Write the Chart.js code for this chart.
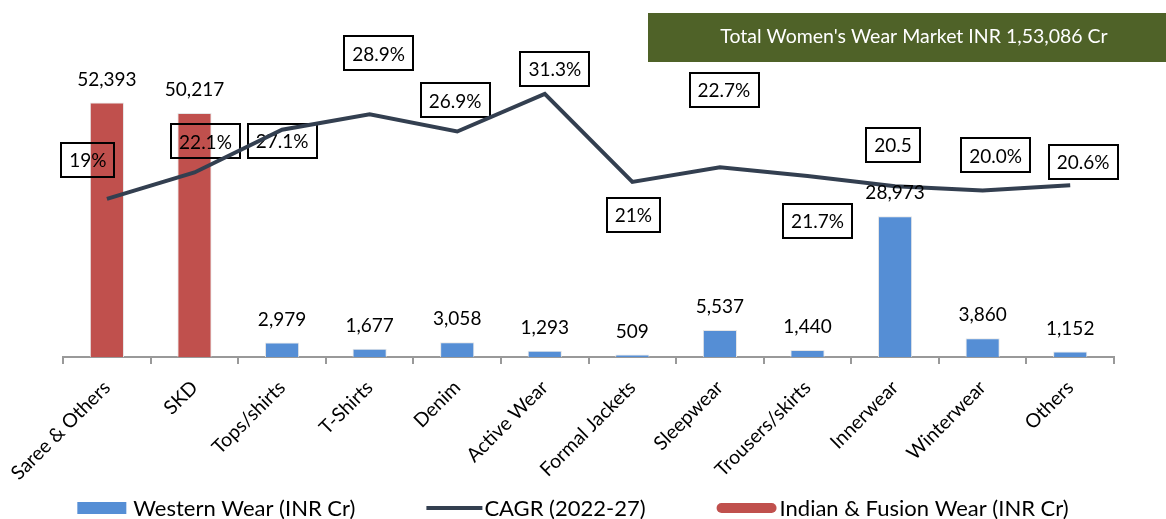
<!DOCTYPE html>
<html>
<head>
<meta charset="utf-8">
<script src="https://cdn.jsdelivr.net/npm/chart.js"></script>
<style>
  body { margin: 0; background: #fff; }
  #wrap { width: 1166px; height: 519px; position: relative; }
</style>
</head>
<body>
<div id="wrap"><canvas id="myChart"></canvas></div>
<script>
// data
var categories = ['Saree & Others', 'SKD', 'Tops/shirts', 'T-Shirts', 'Denim', 'Active Wear',
  'Formal Jackets', 'Sleepwear', 'Trousers/skirts', 'Innerwear', 'Winterwear', 'Others'];
var indianWear = [52393, 50217, null, null, null, null, null, null, null, null, null, null];
var westernWear = [null, null, 2979, 1677, 3058, 1293, 509, 5537, 1440, 28973, 3860, 1152];
var cagr = [19, 22.1, 27.1, 28.9, 26.9, 31.3, 21, 22.7, 21.7, 20.5, 20.0, 20.6];
var cagrLabels = ['19%', '22.1%', '27.1%', '28.9%', '26.9%', '31.3%', '21%', '22.7%', '21.7%', '20.5', '20.0%', '20.6%'];
var titleText = "Total Women's Wear Market INR 1,53,086 Cr";

// where each CAGR box sits relative to its point (hand placed, like in the original)
var boxOffsets = [[-19, -39], [11, -31], [0, 11], [9, -61], [-2, -31], [10, -25],
  [1, 33], [4, -77], [10, 45], [-2, -41], [13, -35], [13, -23]];

var FONT = 'Lato, "Noto Sans", sans-serif';
var BLUE = '#558ED5', RED = '#C0504D', NAVY = '#333F50';

var decor = {
  id: 'decor',
  beforeDatasetDraw: function (chart, args) {
    if (args.index !== 1) return;
    var ctx = chart.ctx;
    var meta = chart.getDatasetMeta(1);
    ctx.save();
    ctx.font = '19px ' + FONT;
    ctx.textAlign = 'center';
    ctx.textBaseline = 'middle';
    meta.data.forEach(function (pt, i) {
      var cx = pt.x + boxOffsets[i][0], cy = pt.y + boxOffsets[i][1];
      var w = ctx.measureText(cagrLabels[i]).width + 16, h = 34;
      ctx.strokeStyle = '#000';
      ctx.lineWidth = 2;
      ctx.strokeRect(Math.round(cx - w / 2), Math.round(cy - h / 2), Math.round(w), h);
      ctx.fillStyle = '#000';
      ctx.fillText(cagrLabels[i], cx, cy + 1);
    });
    ctx.restore();
  },
  afterDatasetsDraw: function (chart) {
    var ctx = chart.ctx;
    ctx.save();
    ctx.font = '19px ' + FONT;
    ctx.fillStyle = '#000';
    ctx.textAlign = 'center';
    ctx.textBaseline = 'middle';
    [0, 2].forEach(function (di) {
      var meta = chart.getDatasetMeta(di);
      var vals = chart.data.datasets[di].data;
      meta.data.forEach(function (bar, i) {
        if (vals[i] == null) return;
        ctx.fillText(vals[i].toLocaleString('en-US'), bar.x, bar.y - 23);
      });
    });
    ctx.restore();
  },
  afterDraw: function (chart) {
    var ctx = chart.ctx;
    ctx.save();
    // title banner
    ctx.fillStyle = '#4F6228';
    ctx.fillRect(648, 13, 518, 49);
    ctx.fillStyle = '#fff';
    ctx.font = '19.5px ' + FONT;
    ctx.textAlign = 'center';
    ctx.textBaseline = 'middle';
    ctx.fillText(titleText, 914, 37);

    // legend
    var items = [
      { text: 'Western Wear (INR Cr)', kind: 'box', color: BLUE, w: 49, gap: 7 },
      { text: 'CAGR (2022-27)', kind: 'line', color: NAVY, w: 56, gap: 2 },
      { text: 'Indian & Fusion Wear (INR Cr)', kind: 'pill', color: RED, w: 60, gap: 3 }
    ];
    ctx.font = '22px ' + FONT;
    ctx.textAlign = 'left';
    var spacing = 71, total = 0;
    items.forEach(function (it, k) {
      it.tw = ctx.measureText(it.text).width;
      total += it.w + it.gap + it.tw + (k ? spacing : 0);
    });
    var x = 573 - total / 2, y = 508;
    items.forEach(function (it) {
      ctx.fillStyle = it.color;
      ctx.strokeStyle = it.color;
      if (it.kind === 'box') {
        ctx.fillRect(x, y - 6, it.w, 12);
      } else if (it.kind === 'line') {
        ctx.lineWidth = 4;
        ctx.beginPath();
        ctx.moveTo(x, y);
        ctx.lineTo(x + it.w, y);
        ctx.stroke();
      } else {
        ctx.beginPath();
        ctx.roundRect(x, y - 5, it.w, 10, 5);
        ctx.fill();
      }
      ctx.fillStyle = '#000';
      ctx.fillText(it.text, x + it.w + it.gap, y + 1);
      x += it.w + it.gap + it.tw + spacing;
    });
    ctx.restore();
  }
};

var ctx = document.getElementById('myChart').getContext('2d');
var myChart = new Chart(ctx, {
  type: 'bar',
  data: {
    labels: categories,
    datasets: [{
      type: 'bar',
      label: 'Western Wear (INR Cr)',
      data: westernWear,
      backgroundColor: BLUE,
      borderColor: '#e6e6e6',
      borderWidth: 1,
      yAxisID: 'y',
      grouped: false,
      barPercentage: 0.39,
      categoryPercentage: 1,
      order: 1
    }, {
      type: 'line',
      label: 'CAGR (2022-27)',
      data: cagr,
      borderColor: NAVY,
      backgroundColor: NAVY,
      borderWidth: 4,
      pointRadius: 0,
      tension: 0,
      yAxisID: 'y2',
      order: 0
    }, {
      type: 'bar',
      label: 'Indian & Fusion Wear (INR Cr)',
      data: indianWear,
      backgroundColor: RED,
      borderColor: '#e6e6e6',
      borderWidth: 1,
      yAxisID: 'y',
      grouped: false,
      barPercentage: 0.39,
      categoryPercentage: 1,
      order: 1
    }]
  },
  options: {
    responsive: true,
    maintainAspectRatio: false,
    animation: false,
    layout: { padding: { left: 63, right: 52, top: 17, bottom: 0 } },
    plugins: {
      legend: { display: false },
      tooltip: { enabled: false }
    },
    scales: {
      x: {
        offset: true,
        grid: { offset: true, drawOnChartArea: false, drawTicks: true, tickLength: 7, color: '#999', lineWidth: 2 },
        border: { color: '#999', width: 2 },
        ticks: {
          color: '#000',
          font: { family: FONT, size: 19.5 },
          minRotation: 45,
          maxRotation: 45,
          autoSkip: false,
          padding: 12
        },
        afterFit: function (scale) { scale.height = 162; }
      },
      y: { display: false, min: 0, max: 70000 },
      y2: { display: false, position: 'right', min: 0.5, max: 40.3 }
    }
  },
  plugins: [decor]
});
</script>
</body>
</html>
